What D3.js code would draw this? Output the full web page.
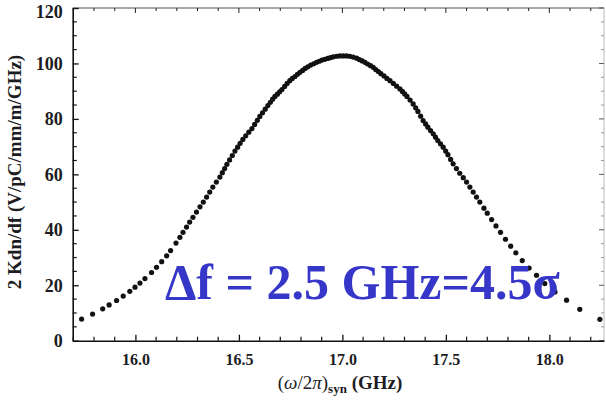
<!DOCTYPE html>
<html>
<head>
<meta charset="utf-8">
<script src="https://cdn.jsdelivr.net/npm/d3@7"></script>
<style>
  html, body { margin: 0; padding: 0; background: #fff; }
  svg { display: block; }
  text { font-family: "Liberation Serif", "Times New Roman", serif; }
</style>
</head>
<body>
<svg id="chart" width="606" height="404"></svg>
<script>
// Frequency (GHz) of each plotted point
const freqGHz = [
  15.740, 15.793, 15.842, 15.873, 15.909, 15.941, 15.973, 15.998, 16.022, 16.046,
  16.078, 16.102, 16.127, 16.151, 16.170, 16.196, 16.215, 16.230, 16.247, 16.262,
  16.278, 16.295, 16.312, 16.328, 16.344, 16.359, 16.374, 16.391, 16.408, 16.420,
  16.431, 16.442, 16.455, 16.468, 16.481, 16.494, 16.506, 16.519, 16.533, 16.548,
  16.563, 16.576, 16.589, 16.601, 16.614, 16.627, 16.640, 16.652, 16.663, 16.674,
  16.686, 16.697, 16.708, 16.721, 16.733, 16.746, 16.758, 16.771, 16.783, 16.795,
  16.808, 16.820, 16.833, 16.847, 16.861, 16.875, 16.888, 16.901, 16.915, 16.929,
  16.942, 16.956, 16.972, 16.988, 17.004, 17.020, 17.036, 17.052, 17.069, 17.082,
  17.096, 17.109, 17.122, 17.136, 17.149, 17.161, 17.174, 17.186, 17.201, 17.215,
  17.230, 17.246, 17.262, 17.278, 17.290, 17.301, 17.312, 17.327, 17.342, 17.354,
  17.365, 17.378, 17.390, 17.402, 17.413, 17.426, 17.439, 17.450, 17.461, 17.474,
  17.487, 17.499, 17.510, 17.523, 17.535, 17.551, 17.567, 17.584, 17.600, 17.616,
  17.632, 17.648, 17.664, 17.684, 17.700, 17.721, 17.742, 17.764, 17.788, 17.813,
  17.838, 17.869, 17.902, 17.938, 17.978, 18.027, 18.083, 18.147, 18.244
];
// 2 Kdn/df values (V/pC/mm/m/GHz)
const kdnValues = [
  7.8, 9.6, 11.5, 12.9, 14.5, 16.1, 17.8, 19.3, 20.8, 22.4,
  24.6, 26.5, 28.5, 30.6, 32.5, 35.2, 37.3, 39.1, 41.0, 42.8,
  44.5, 46.4, 48.3, 50.0, 51.8, 53.6, 55.4, 57.2, 59.0, 60.6,
  62.1, 63.6, 65.2, 66.8, 68.4, 69.8, 71.2, 72.6, 73.9, 75.2,
  76.5, 78.0, 79.5, 80.9, 82.2, 83.5, 84.8, 86.0, 87.1, 88.1,
  88.9, 89.8, 90.6, 91.7, 92.8, 93.8, 94.6, 95.3, 96.1, 96.8,
  97.5, 98.2, 98.8, 99.4, 99.9, 100.4, 100.8, 101.2, 101.5, 101.8,
  102.1, 102.4, 102.6, 102.7, 102.7, 102.7, 102.6, 102.3, 101.9, 101.4,
  100.9, 100.4, 99.8, 99.2, 98.6, 97.8, 97.1, 96.3, 95.5, 94.6,
  93.8, 92.8, 91.8, 90.8, 89.9, 89.0, 88.1, 86.8, 85.4, 84.0,
  82.7, 81.0, 79.4, 78.2, 77.0, 75.8, 74.6, 73.4, 72.2, 71.0,
  69.8, 68.4, 67.1, 65.4, 63.8, 62.1, 60.4, 58.8, 57.2, 55.4,
  53.6, 51.8, 50.0, 47.8, 46.0, 43.7, 41.4, 39.1, 36.6, 34.1,
  31.7, 28.9, 26.2, 23.6, 20.6, 17.6, 14.6, 11.3, 7.7
];
const xTickValues = [16.0, 16.5, 17.0, 17.5, 18.0];
const yTickValues = [0, 20, 40, 60, 80, 100, 120];
const xDomain = [15.697, 18.264];
const yDomain = [0, 120];
const annotation = "Δf = 2.5 GHz=4.5σ";
const yLabel = "2 Kdn/df (V/pC/mm/m/GHz)";

(function () {
const svg = d3.select("#chart");
const mLeft = 72.7, mRight = 604, mTop = 8, mBottom = 340.7;

const x = d3.scaleLinear().domain(xDomain).range([mLeft, mRight]);
const y = d3.scaleLinear().domain(yDomain).range([mBottom, mTop]);

const xMinor = d3.range(157, 183, 1).map(v => v / 10).filter(v => !xTickValues.includes(v));
const yMinor = d3.range(0, 121, 5).filter(v => !yTickValues.includes(v));

// frame: top & right lighter
svg.append("line").attr("x1", mLeft).attr("x2", mRight).attr("y1", mTop).attr("y2", mTop)
  .attr("stroke", "#8a8a8a").attr("stroke-width", 1.3);
svg.append("line").attr("x1", mRight).attr("x2", mRight).attr("y1", mTop).attr("y2", mBottom)
  .attr("stroke", "#bbbbbb").attr("stroke-width", 1);

// top ticks
const gTop = svg.append("g");
gTop.selectAll("line.maj").data(xTickValues).join("line").attr("class", "maj")
  .attr("x1", d => x(d)).attr("x2", d => x(d)).attr("y1", mTop).attr("y2", mTop + 5)
  .attr("stroke", "#222").attr("stroke-width", 1);
gTop.selectAll("line.min").data(xMinor).join("line").attr("class", "min")
  .attr("x1", d => x(d)).attr("x2", d => x(d)).attr("y1", mTop).attr("y2", mTop + 3)
  .attr("stroke", "#222").attr("stroke-width", 1);
// right ticks
const gRight = svg.append("g");
gRight.selectAll("line.maj").data(yTickValues).join("line").attr("class", "maj")
  .attr("x1", mRight).attr("x2", mRight - 5).attr("y1", d => y(d)).attr("y2", d => y(d))
  .attr("stroke", "#555").attr("stroke-width", 1);
gRight.selectAll("line.min").data(yMinor).join("line").attr("class", "min")
  .attr("x1", mRight).attr("x2", mRight - 3).attr("y1", d => y(d)).attr("y2", d => y(d))
  .attr("stroke", "#999").attr("stroke-width", 1);

// bottom axis (ticks inward)
const xAxis = svg.append("g").attr("transform", `translate(0,${mBottom})`)
  .call(d3.axisBottom(x).tickValues(xTickValues).tickFormat(d3.format(".1f")).tickSizeInner(-6).tickSizeOuter(0).tickPadding(13));
xAxis.select(".domain").attr("stroke", "#111").attr("stroke-width", 1.6);
xAxis.selectAll(".tick line").attr("stroke", "#111").attr("stroke-width", 1.3);
xAxis.selectAll(".tick text").attr("font-size", 16).attr("font-weight", "bold")
  .attr("fill", "#1c1c22").attr("font-family", "Liberation Serif, serif");
svg.append("g").selectAll("line").data(xMinor).join("line")
  .attr("x1", d => x(d)).attr("x2", d => x(d)).attr("y1", mBottom).attr("y2", mBottom - 4)
  .attr("stroke", "#111").attr("stroke-width", 1.2);

// left axis (ticks inward)
const yAxis = svg.append("g").attr("transform", `translate(${mLeft},0)`)
  .call(d3.axisLeft(y).tickValues(yTickValues).tickFormat(d3.format("d")).tickSizeInner(-6).tickSizeOuter(0).tickPadding(10));
yAxis.select(".domain").attr("stroke", "#111").attr("stroke-width", 1.6);
yAxis.selectAll(".tick line").attr("stroke", "#111").attr("stroke-width", 1.3);
yAxis.selectAll(".tick text").attr("font-size", 18).attr("font-weight", "bold")
  .attr("fill", "#1c1c22").attr("font-family", "Liberation Serif, serif")
  .attr("dy", d => d === 120 ? "0.5em" : "0.32em");
svg.append("g").selectAll("line").data(yMinor).join("line")
  .attr("x1", mLeft).attr("x2", mLeft + 4).attr("y1", d => y(d)).attr("y2", d => y(d))
  .attr("stroke", "#111").attr("stroke-width", 1.2);

// data points
const pts = freqGHz.map((f, i) => ({f, v: kdnValues[i]}));
svg.append("g").selectAll("circle").data(pts).join("circle")
  .attr("cx", d => x(d.f)).attr("cy", d => y(d.v)).attr("r", 2.6)
  .attr("fill", "#111");

// axis titles
svg.append("text")
  .attr("transform", `translate(21,172) rotate(-90)`)
  .attr("text-anchor", "middle")
  .attr("font-size", 19).attr("font-weight", "bold").attr("fill", "#1c1c22")
  .text(yLabel);

const xl = svg.append("text").attr("x", 340).attr("y", 389).attr("text-anchor", "middle")
  .attr("font-size", 19).attr("fill", "#1c1c22");
xl.append("tspan").text("(");
xl.append("tspan").attr("font-style", "italic").text("ω");
xl.append("tspan").text("/2");
xl.append("tspan").attr("font-style", "italic").text("π");
xl.append("tspan").text(")");
xl.append("tspan").attr("font-size", 13).attr("font-weight", "bold").attr("dy", 4).text("syn");
xl.append("tspan").attr("font-weight", "bold").attr("dy", -4).text(" (GHz)");

// annotation
svg.append("text").attr("x", 165).attr("y", 299)
  .attr("font-size", 50).attr("font-weight", "bold").attr("fill", "#3636c8")
  .text(annotation);
})();
</script>
</body>
</html>
